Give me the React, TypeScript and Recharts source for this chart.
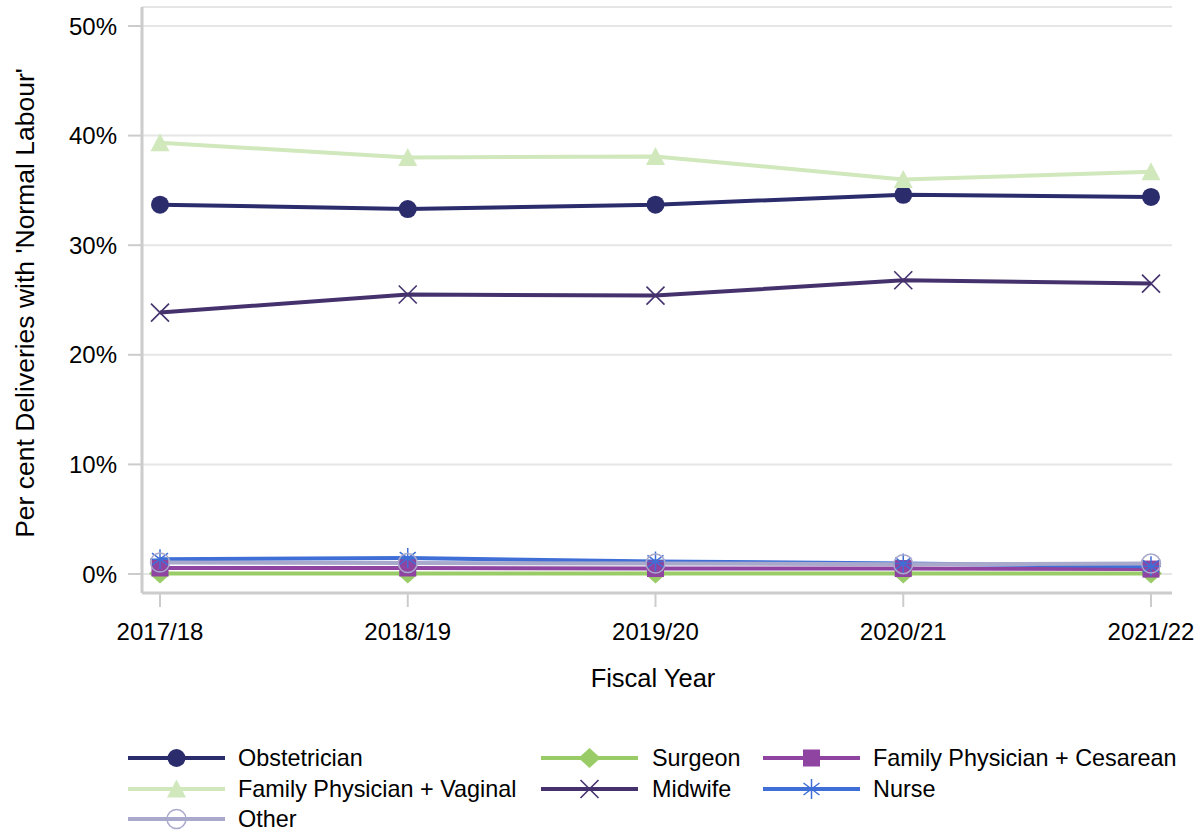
import React from 'react';
import { LineChart, Line, XAxis, YAxis, CartesianGrid, Legend } from 'recharts';

const years = ['2017/18', '2018/19', '2019/20', '2020/21', '2021/22'];
const obstetrician = [33.7, 33.3, 33.7, 34.6, 34.4];
const surgeon = [0.05, 0.05, 0.05, 0.05, 0.05];
const fpCesarean = [0.55, 0.55, 0.5, 0.5, 0.45];
const fpVaginal = [39.35, 38.0, 38.1, 36.0, 36.7];
const midwife = [23.85, 25.5, 25.4, 26.8, 26.5];
const nurse = [1.35, 1.45, 1.15, 0.95, 0.7];
const other = [1.05, 1.0, 0.95, 0.9, 0.95];
const yTicks = [0, 10, 20, 30, 40, 50];

const xTitle = 'Fiscal Year';
const yTitle = "Per cent Deliveries with 'Normal Labour'";

type MarkerType = 'circle' | 'diamond' | 'square' | 'triangle' | 'x' | 'asterisk' | 'openCircle';

const series: { key: string; name: string; values: number[]; color: string; marker: MarkerType }[] = [
  { key: 'obstetrician', name: 'Obstetrician', values: obstetrician, color: '#2b2c6c', marker: 'circle' },
  { key: 'surgeon', name: 'Surgeon', values: surgeon, color: '#99cc66', marker: 'diamond' },
  { key: 'fpCesarean', name: 'Family Physician + Cesarean', values: fpCesarean, color: '#8e44a0', marker: 'square' },
  { key: 'fpVaginal', name: 'Family Physician + Vaginal', values: fpVaginal, color: '#d0e8bc', marker: 'triangle' },
  { key: 'midwife', name: 'Midwife', values: midwife, color: '#45326d', marker: 'x' },
  { key: 'nurse', name: 'Nurse', values: nurse, color: '#3f6fd6', marker: 'asterisk' },
  { key: 'other', name: 'Other', values: other, color: '#a9a9cc', marker: 'openCircle' },
];

const data = years.map((year, i) => {
  const row: Record<string, string | number> = { year };
  series.forEach((s) => {
    row[s.key] = s.values[i];
  });
  return row;
});

const FONT = '"Liberation Sans", Arial, Helvetica, sans-serif';
const FRAME = '#cccccc';
const GRID = '#e6e6e6';

function Marker({ type, cx, cy, color }: { type: MarkerType; cx: number; cy: number; color: string }) {
  if (cx == null || cy == null) return null;
  switch (type) {
    case 'circle':
      return <circle cx={cx} cy={cy} r={9} fill={color} />;
    case 'triangle':
      return <polygon points={`${cx},${cy - 9.5} ${cx + 9.5},${cy + 8.5} ${cx - 9.5},${cy + 8.5}`} fill={color} />;
    case 'diamond':
      return <polygon points={`${cx},${cy - 10} ${cx + 11},${cy} ${cx},${cy + 10} ${cx - 11},${cy}`} fill={color} />;
    case 'square':
      return <rect x={cx - 8.5} y={cy - 8.5} width={17} height={17} fill={color} />;
    case 'x':
      return (
        <path
          d={`M${cx - 9},${cy - 9}L${cx + 9},${cy + 9}M${cx - 9},${cy + 9}L${cx + 9},${cy - 9}`}
          stroke={color}
          strokeWidth={1.6}
          fill="none"
        />
      );
    case 'asterisk':
      return (
        <path
          d={`M${cx},${cy - 10}L${cx},${cy + 10}M${cx - 10},${cy}L${cx + 10},${cy}M${cx - 8},${cy - 6}L${cx + 8},${cy + 6}M${cx - 8},${cy + 6}L${cx + 8},${cy - 6}`}
          stroke={color}
          strokeWidth={1.5}
          fill="none"
        />
      );
    case 'openCircle':
      return <circle cx={cx} cy={cy} r={9.5} fill="none" stroke={color} strokeWidth={1.5} />;
    default:
      return null;
  }
}

// legend layout
const legendCols = [
  { lineX1: 128, lineX2: 225, textX: 238 },
  { lineX1: 541, lineX2: 638, textX: 652 },
  { lineX1: 763, lineX2: 860, textX: 873 },
];
const legendRowY = [17, 48, 78];

function LegendContent() {
  return (
    <svg width={1202} height={90} style={{ display: 'block' }}>
      {series.map((s, i) => {
        const col = legendCols[i % 3];
        const y = legendRowY[Math.floor(i / 3)];
        const mx = (col.lineX1 + col.lineX2) / 2;
        return (
          <g key={s.key}>
            <line x1={col.lineX1} x2={col.lineX2} y1={y} y2={y} stroke={s.color} strokeWidth={4} />
            <Marker type={s.marker} cx={mx} cy={y} color={s.color} />
            <text
              x={col.textX}
              y={y}
              dominantBaseline="central"
              fontSize={23.4}
              fontFamily={FONT}
              fill="#000"
            >
              {s.name}
            </text>
          </g>
        );
      })}
    </svg>
  );
}

const tickStyle = { fontSize: 24, fontFamily: FONT, fill: '#000' };

export default function App() {
  return (
    <div style={{ position: 'absolute', left: 0, top: 0, width: 1202, height: 831, background: '#fff' }}>
      <LineChart
        width={1202}
        height={831}
        data={data}
        margin={{ top: 7, right: 30, left: 12, bottom: 48 }}
      >
        <CartesianGrid vertical={false} stroke={GRID} strokeWidth={2} />
        <XAxis
          dataKey="year"
          height={100}
          padding={{ left: 18, right: 21 }}
          tick={tickStyle}
          tickSize={14}
          tickMargin={16}
          tickLine={{ stroke: FRAME, strokeWidth: 2 }}
          axisLine={{ stroke: FRAME, strokeWidth: 3 }}
          interval={0}
          label={(p: any) => {
            const vb = p.viewBox || {};
            return (
              <text
                x={vb.x + vb.width / 2 - 4}
                y={vb.y + 94}
                textAnchor="middle"
                fontSize={25.5}
                fontFamily={FONT}
                fill="#000"
              >
                {xTitle}
              </text>
            );
          }}
        />
        <XAxis
          xAxisId="top"
          orientation="top"
          dataKey="year"
          height={0}
          padding={{ left: 18, right: 21 }}
          tick={false}
          tickLine={false}
          axisLine={{ stroke: FRAME, strokeWidth: 3 }}
        />
        <YAxis
          width={130}
          domain={[0, 50]}
          ticks={yTicks}
          padding={{ top: 19, bottom: 19 }}
          tickFormatter={(v: number) => `${v}%`}
          tick={tickStyle}
          tickSize={14}
          tickMargin={11}
          tickLine={{ stroke: FRAME, strokeWidth: 2 }}
          axisLine={{ stroke: FRAME, strokeWidth: 3 }}
          label={(p: any) => {
            const vb = p.viewBox || {};
            const cx = vb.x + 13;
            const cy = vb.y + vb.height / 2 + 3;
            return (
              <text
                x={cx}
                y={cy}
                transform={`rotate(-90, ${cx}, ${cy})`}
                textAnchor="middle"
                dominantBaseline="central"
                fontSize={26.5}
                fontFamily={FONT}
                fill="#000"
              >
                {yTitle}
              </text>
            );
          }}
        />
        <YAxis
          yAxisId="right"
          orientation="right"
          width={0}
          domain={[0, 50]}
          padding={{ top: 19, bottom: 19 }}
          tick={false}
          tickLine={false}
          axisLine={{ stroke: FRAME, strokeWidth: 3 }}
        />
        <Legend
          verticalAlign="bottom"
          wrapperStyle={{ left: 0, bottom: 0, width: 1202, height: 90 }}
          content={() => <LegendContent />}
        />
        {series.map((s) => (
          <Line
            key={s.key}
            dataKey={s.key}
            name={s.name}
            stroke={s.color}
            strokeWidth={4}
            isAnimationActive={false}
            dot={(p: any) => <Marker key={`${s.key}-${p.index}`} type={s.marker} cx={p.cx} cy={p.cy} color={s.color} />}
            activeDot={false}
            legendType="none"
          />
        ))}
      </LineChart>
    </div>
  );
}
